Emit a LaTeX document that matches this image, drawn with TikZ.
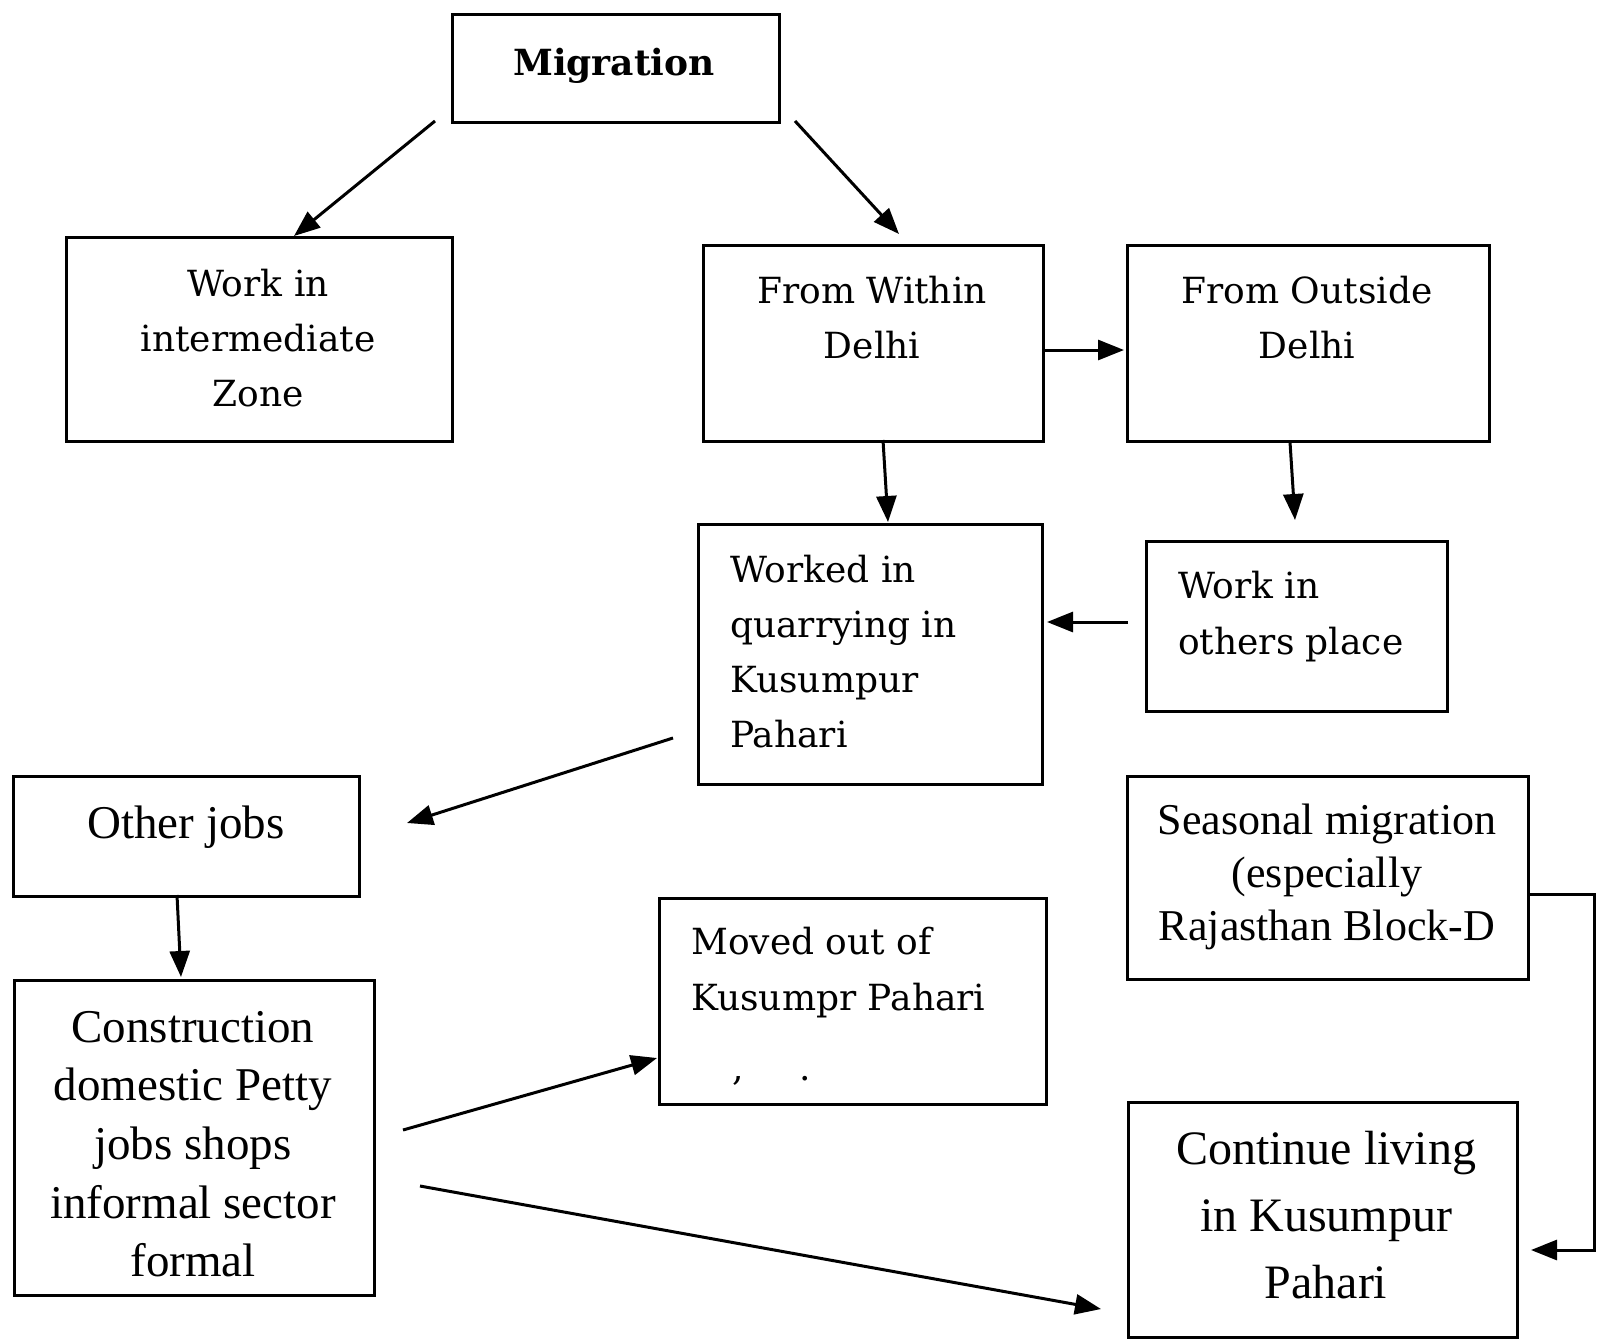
\documentclass[tikz,border=0pt]{standalone}
\usepackage{fontspec}
\setmainfont{Liberation Serif}
\newfontfamily\camfont{DejaVu Serif}
\usetikzlibrary{arrows.meta}
\newcommand\lines[2]{\begin{tabular}[t]{@{}#1@{}}#2\end{tabular}}
\begin{document}
\begin{tikzpicture}[x=1pt,y=-1pt,
  box/.style={draw, line width=2.8pt, inner sep=0, anchor=north west},
  cam/.style={inner sep=0, font=\camfont\fontsize{36}{55}\selectfont},
  tms/.style={inner sep=0, font=\fontsize{46}{58.7}\selectfont},
  arr/.style={line width=3pt, -{Triangle[length=26pt,width=20pt]}},
  elb/.style={line width=3pt, -{Triangle[length=26pt,width=20pt]}}
]
\useasboundingbox (0,0) rectangle (1606,1339);
% boxes
\node[box, minimum width=327pt, minimum height=108pt] (mig) at (451,13) {};
\node[box, minimum width=386pt, minimum height=204pt] (wiz) at (65,236) {};
\node[box, minimum width=340pt, minimum height=196pt] (fwd) at (702,244) {};
\node[box, minimum width=362pt, minimum height=196pt] (fod) at (1126,244) {};
\node[box, minimum width=344pt, minimum height=260pt] (wq) at (697,523) {};
\node[box, minimum width=301pt, minimum height=170pt] (wop) at (1145,540) {};
\node[box, minimum width=346pt, minimum height=120pt] (oj) at (12,775) {};
\node[box, minimum width=401pt, minimum height=203pt] (sea) at (1126,775) {};
\node[box, minimum width=387pt, minimum height=206pt] (mov) at (658,897) {};
\node[box, minimum width=360pt, minimum height=315pt] (con) at (13,979) {};
\node[box, minimum width=389pt, minimum height=235pt] (cl) at (1127,1101) {};
% texts
\node[cam, anchor=base, font=\camfont\bfseries\fontsize{36}{44}\selectfont] (migT) at (614,75) {Migration};
\node[cam, anchor=base] (wizT) at (258,296) {\lines{c}{Work in\\intermediate\\Zone}};
\node[cam, anchor=base] (fwdT) at (872,303) {\lines{c}{From Within\\Delhi}};
\node[cam, anchor=base] (fodT) at (1307,303) {\lines{c}{From Outside\\Delhi}};
\node[cam, anchor=base west] (wqT) at (730,582) {\lines{l}{Worked in\\quarrying in\\Kusumpur\\Pahari}};
\node[cam, anchor=base west, font=\camfont\fontsize{36}{56}\selectfont] (wopT) at (1178,598) {\lines{l}{Work in\\others place}};
\node[cam, anchor=base west, font=\camfont\fontsize{36}{56}\selectfont] (movT) at (691,954) {\lines{l}{Moved out of\\Kusumpr Pahari}};
\node[cam, anchor=base] (movC) at (738,1080) {,};
\node[cam, anchor=base] (movP) at (805,1080) {.};
\node[tms, anchor=base, font=\fontsize{47}{58}\selectfont] (ojT) at (186,838) {Other jobs};
\node[tms, anchor=base, font=\fontsize{47}{58.7}\selectfont] (conT) at (193,1042) {\lines{c}{Construction\\domestic Petty\\jobs shops\\informal sector\\formal}};
\node[tms, anchor=base, font=\fontsize{44}{53}\selectfont] (seaT) at (1327,834) {\lines{c}{Seasonal migration\\(especially\\Rajasthan Block-D}};
\node[tms, anchor=base, font=\fontsize{48}{67}\selectfont] (clT) at (1326,1164) {\lines{c}{Continue living\\in Kusumpur\\Pahari}};
% connector end points
\coordinate (a1s) at (435,121); \coordinate (a1e) at (294,236);
\coordinate (a2s) at (795,121); \coordinate (a2e) at (899,234);
\coordinate (a3s) at (1042,350); \coordinate (a3e) at (1124,350);
\coordinate (a4s) at (883,440); \coordinate (a4e) at (888,522);
\coordinate (a5s) at (1290,442); \coordinate (a5e) at (1295,520);
\coordinate (a6s) at (1128,622); \coordinate (a6e) at (1047,622);
\coordinate (a7s) at (673,738); \coordinate (a7e) at (407,823);
\coordinate (a8s) at (177,895); \coordinate (a8e) at (181,977);
\coordinate (a9s) at (403,1130); \coordinate (a9e) at (657,1058);
\coordinate (a10s) at (420,1186); \coordinate (a10e) at (1101,1309);
\coordinate (a11s) at (1527,894); \coordinate (a11e) at (1531,1250);
% connectors
\draw[arr] (a1s) -- (a1e);
\draw[arr] (a2s) -- (a2e);
\draw[arr] (a3s) -- (a3e);
\draw[arr] (a4s) -- (a4e);
\draw[arr] (a5s) -- (a5e);
\draw[arr] (a6s) -- (a6e);
\draw[arr] (a7s) -- (a7e);
\draw[arr] (a8s) -- (a8e);
\draw[arr] (a9s) -- (a9e);
\draw[arr] (a10s) -- (a10e);
\draw[elb] (a11s) -- (1594,894) -- (1594,1250) -- (a11e);
\end{tikzpicture}
\end{document}
